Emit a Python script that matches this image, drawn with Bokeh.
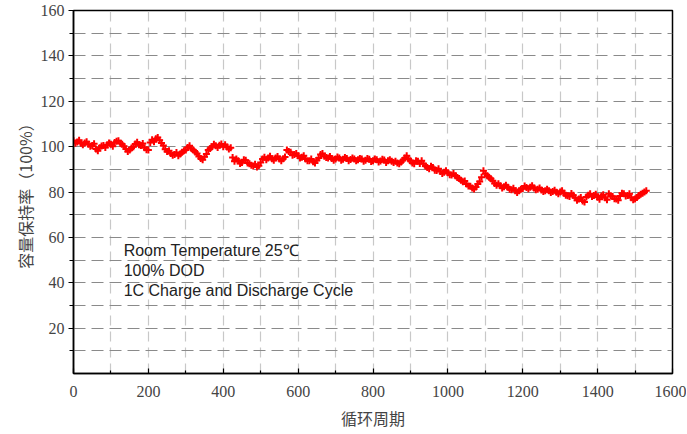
from bokeh.plotting import figure
from bokeh.models import FixedTicker, Range1d, Label
from bokeh.embed import file_html
from bokeh.resources import INLINE

# cycle numbers and capacity retention (%)
cycles_a = list(range(0, 1540, 10))
retention_a = [
    102.6, 102.0, 101.5, 101.6, 101.0, 100.5, 99.0, 99.5, 100.5, 100.8,   # 0-90
    101.0, 101.8, 102.6, 101.0, 99.0, 98.5, 100.0, 101.9, 100.5, 99.5,    # 100-190
    98.5, 103.0, 103.5, 102.8, 100.5, 97.8, 97.0, 96.5, 96.0, 97.5,       # 200-290
    98.5, 100.4, 98.5, 97.0, 94.8, 95.5, 98.5, 100.0, 100.4, 100.6,       # 300-390
    100.0, 99.8, 99.5, 93.5, 93.8, 93.0, 94.0, 92.5, 91.5, 91.0,          # 400-490
    93.0, 95.3, 95.0, 94.7, 95.0, 94.5, 94.7, 98.5, 97.5, 96.5,           # 500-590
    96.0, 95.3, 94.5, 93.8, 93.3, 94.0, 96.5, 95.8, 95.0, 94.8,           # 600-690
    94.6, 95.0, 94.4, 94.8, 94.3, 94.6, 94.2, 94.5, 94.0, 94.4,           # 700-790
    93.8, 94.2, 93.7, 94.1, 93.8, 93.6, 93.5, 92.5, 94.0, 96.0,           # 800-890
    93.8, 92.5, 93.5, 93.8, 91.5, 90.2, 90.8, 89.5, 89.0, 88.7,           # 900-990
    88.5, 87.5, 87.2, 86.0, 84.5, 83.5, 82.5, 81.3, 83.5, 86.5,           # 1000-1090
    88.0, 86.5, 85.0, 83.0, 82.8, 82.3, 82.1, 81.0, 80.6, 80.5,           # 1100-1190
    81.5, 82.0, 82.1, 81.8, 81.2, 80.9, 80.6, 80.5, 80.2, 79.9,           # 1200-1290
    80.0, 79.5, 78.4, 79.3, 77.5, 76.9, 76.0, 77.8, 79.2, 78.5,           # 1300-1390
    77.7, 78.2, 77.5, 79.2, 78.0, 76.9, 78.2, 79.2, 78.5, 77.5,           # 1400-1490
    76.9, 78.5, 79.5, 80.6,                                               # 1500-1530
]
cycles_b = list(range(5, 1530, 10))
retention_b = [
    101.5, 102.8, 100.8, 102.2, 100.2, 101.3, 98.2, 100.3, 99.6, 101.6,   # 5-95
    100.2, 102.4, 101.5, 100.2, 97.8, 99.4, 101.2, 100.8, 101.4, 98.6,    # 105-195
    101.8, 102.2, 104.0, 101.6, 98.8, 98.2, 96.2, 97.4, 96.8, 98.2,       # 205-295
    99.6, 99.2, 97.6, 95.6, 94.2, 96.8, 99.2, 101.0, 99.6, 101.2,         # 305-395
    100.8, 99.0, 95.2, 94.6, 92.6, 94.2, 92.8, 91.8, 92.2, 91.6,          # 405-495
    94.6, 94.2, 95.8, 94.0, 95.6, 93.8, 95.4, 97.8, 96.2, 97.0,           # 505-595
    95.0, 96.0, 93.8, 94.6, 92.8, 95.0, 97.0, 95.2, 95.6, 94.0,           # 605-695
    95.4, 94.0, 95.2, 93.8, 95.0, 93.8, 94.8, 93.6, 94.8, 93.4,           # 705-795
    94.6, 93.2, 94.4, 93.0, 94.2, 93.0, 92.8, 93.2, 95.0, 94.6,           # 805-895
    92.8, 93.8, 92.6, 92.4, 90.8, 91.4, 89.6, 90.2, 88.2, 89.4,           # 905-995
    87.6, 88.2, 86.4, 85.2, 84.8, 82.6, 81.8, 82.2, 84.6, 89.4,           # 1005-1095
    87.2, 85.8, 83.8, 83.6, 81.8, 83.0, 81.2, 81.6, 79.8, 81.2,           # 1105-1195
    82.6, 81.4, 82.8, 81.0, 81.8, 80.2, 81.2, 79.8, 80.8, 79.2,           # 1205-1295
    80.6, 78.6, 78.0, 78.6, 76.4, 77.6, 75.6, 78.6, 78.0, 79.0,           # 1305-1395
    76.8, 78.8, 76.6, 78.4, 77.0, 76.4, 79.4, 78.2, 79.2, 76.6,           # 1405-1495
    77.6, 79.0, 80.0,                                                     # 1505-1525
]

x_ticks = [0, 200, 400, 600, 800, 1000, 1200, 1400, 1600]
y_ticks = [20, 40, 60, 80, 100, 120, 140, 160]
notes = ["Room Temperature 25℃", "100% DOD", "1C Charge and Discharge Cycle"]

p = figure(width=686, height=432, output_backend="svg", toolbar_location=None,
           x_range=Range1d(0, 1600), y_range=Range1d(0, 160),
           min_border_left=73, min_border_right=14, min_border_top=10, min_border_bottom=59)

p.background_fill_color = "white"
p.border_fill_color = "white"
p.outline_line_color = "black"
p.outline_line_width = 1.5

# grids
p.xgrid.ticker = FixedTicker(ticks=list(range(100, 1600, 100)))
p.xgrid.grid_line_color = "#c8c8c8"
p.xgrid.grid_line_dash = "10 6"
p.xgrid.grid_line_width = 1.2
p.ygrid.ticker = FixedTicker(ticks=list(range(10, 160, 10)))
p.ygrid.grid_line_color = "#8a8a8a"
p.ygrid.grid_line_dash = "12 6"
p.ygrid.grid_line_width = 1.2

# x axis
p.xaxis.ticker = FixedTicker(ticks=x_ticks, minor_ticks=list(range(100, 1600, 200)))
p.xaxis.major_tick_in = 5
p.xaxis.major_tick_out = 0
p.xaxis.minor_tick_in = 3
p.xaxis.minor_tick_out = 0
p.xaxis.major_label_standoff = 12
p.xaxis.axis_label = "循环周期"
p.xaxis.axis_label_standoff = 6

# y axis
p.yaxis.ticker = FixedTicker(ticks=y_ticks, minor_ticks=list(range(10, 160, 20)))
p.yaxis.major_tick_in = 0
p.yaxis.major_tick_out = 5
p.yaxis.minor_tick_in = 0
p.yaxis.minor_tick_out = 4
p.yaxis.major_label_standoff = 4
p.yaxis.axis_label = "容量保持率（100%）"
p.yaxis.axis_label_standoff = 1

for ax in (p.xaxis, p.yaxis):
    ax.axis_line_color = "black"
    ax.axis_line_width = 1.5
    ax.major_tick_line_color = "black"
    ax.major_tick_line_width = 1.2
    ax.minor_tick_line_color = "black"
    ax.minor_tick_line_width = 1.2
    ax.major_label_text_font = "Liberation Serif"
    ax.major_label_text_font_size = "16px"
    ax.major_label_text_color = "#444444"
    ax.axis_label_text_font = "Noto Sans CJK SC"
    ax.axis_label_text_font_size = "16px"
    ax.axis_label_text_font_style = "normal"
    ax.axis_label_text_color = "#444444"

p.scatter(cycles_a, retention_a, marker="cross", size=7, line_width=2, color="#ff0000")
p.scatter(cycles_b, retention_b, marker="cross", size=7, line_width=2, color="#ff0000")

for i, t in enumerate(notes):
    p.add_layout(Label(x=134, y=54.2 - i * 8.8, text=t, text_font="Liberation Sans",
                       text_font_size="16px", text_color="#222222", text_baseline="middle"))

open("out.html", "w").write(file_html(p, INLINE))
